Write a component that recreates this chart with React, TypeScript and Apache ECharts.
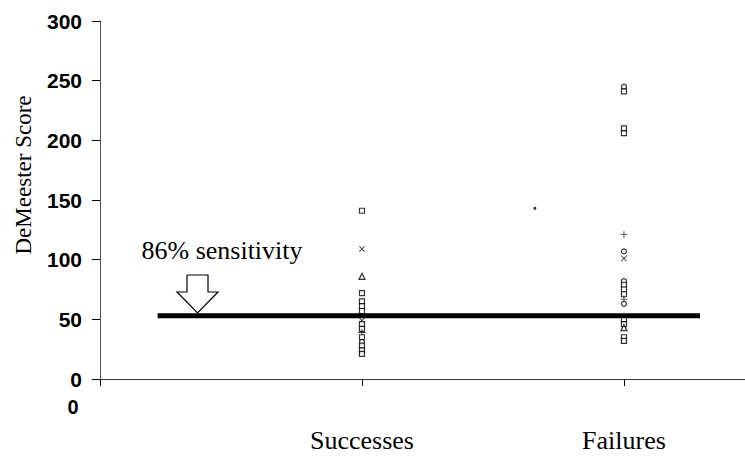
import React, { useEffect, useRef } from "react";
import * as echarts from "echarts";

// DeMeester scores per outcome group; each score has its own marker shape
const categories = ["Successes", "Failures"];
const successScores = [141, 109, 86, 72, 65, 61, 57, 49, 46, 42, 39, 35, 31, 28, 24, 21];
const successMarkers = [
  "square", "cross", "triangle", "square", "square", "square", "square", "cross",
  "square", "square", "plus", "square", "circle", "square", "square", "square",
];
const failureScores = [245, 241, 210, 206, 121, 107, 101, 82, 79, 75, 71, 67, 63, 50, 46, 43, 35, 32];
const failureMarkers = [
  "circle", "square", "square", "square", "plus", "circle", "cross", "circle", "square",
  "square", "square", "plus", "circle", "square", "square", "triangle", "square", "square",
];
const strayPoints = [[1.66, 143]];
const cutoffScore = 53;
const cutoffSpan = [0.22, 2.29];
const yTickValues = [0, 50, 100, 150, 200, 250, 300];
const xTickValues = [0, 1, 2];
const sensitivityLabel = "86% sensitivity";
const yTitle = "DeMeester Score";

const SERIF = "'Liberation Serif', 'Times New Roman', serif";
const SANS = "'Liberation Sans', Arial, sans-serif";

const CROSS_PATH =
  "path://M0,1L1,0L5,4L9,0L10,1L6,5L10,9L9,10L5,6L1,10L0,9L4,5Z";
const PLUS_PATH = "path://M4.4,0H5.6V4.4H10V5.6H5.6V10H4.4V5.6H0V4.4H4.4Z";

function markerItem(x: number, y: number, kind: string) {
  const hollow = { color: "#fff", borderColor: "#000", borderWidth: 1.2 };
  const solid = { color: "#000", borderWidth: 0 };
  switch (kind) {
    case "cross":
      return { value: [x, y], symbol: CROSS_PATH, symbolSize: 6, itemStyle: solid };
    case "plus":
      return { value: [x, y], symbol: PLUS_PATH, symbolSize: 7, itemStyle: solid };
    case "triangle":
      return { value: [x, y], symbol: "triangle", symbolSize: [6, 6], itemStyle: hollow };
    case "circle":
      return { value: [x, y], symbol: "circle", symbolSize: 5, itemStyle: hollow };
    default:
      return { value: [x, y], symbol: "rect", symbolSize: [5, 5], itemStyle: hollow };
  }
}

export default function App() {
  const ref = useRef<HTMLDivElement>(null);

  useEffect(() => {
    if (!ref.current) return;
    const chart = echarts.init(ref.current, null, { renderer: "svg" });

    const successData = successScores.map((v, i) => markerItem(1, v, successMarkers[i]));
    const failureData = failureScores.map((v, i) => markerItem(2, v, failureMarkers[i]));

    const baseY = {
      type: "value" as const,
      min: 0,
      max: 300,
      interval: 50,
      splitLine: { show: false },
    };
    const baseX = {
      type: "value" as const,
      min: 0,
      max: 2.462,
      interval: 1,
      splitLine: { show: false },
    };

    chart.setOption({
      animation: false,
      backgroundColor: "#fff",
      grid: { left: 100, right: 0, top: 21, bottom: 79, containLabel: false },
      xAxis: [
        {
          ...baseX,
          axisLine: { show: true, lineStyle: { color: "#333", width: 1 } },
          axisTick: { show: true, length: 7, customValues: xTickValues, lineStyle: { color: "#000" } },
          axisLabel: {
            customValues: xTickValues,
            margin: 18,
            formatter: (v: number) =>
              v === 0 ? "{zero|0}" : `{cat|${categories[Math.round(v) - 1] ?? ""}}`,
            rich: {
              zero: {
                fontFamily: SANS,
                fontWeight: "bold",
                fontSize: 20,
                color: "#000",
                padding: [0, 54, 0, 0],
              },
              cat: {
                fontFamily: SERIF,
                fontSize: 26,
                color: "#000",
                padding: [30, 0, 0, 0],
              },
            },
          },
        },
        {
          ...baseX,
          axisLine: { show: false },
          axisTick: { show: true, inside: true, length: 6, customValues: xTickValues, lineStyle: { color: "#000" } },
          axisLabel: { show: false },
        },
      ],
      yAxis: [
        {
          ...baseY,
          axisLine: { show: true, lineStyle: { color: "#555", width: 1 } },
          axisTick: { show: true, length: 8, customValues: yTickValues, lineStyle: { color: "#000" } },
          axisLabel: {
            margin: 18,
            fontFamily: SANS,
            fontWeight: "bold",
            fontSize: 21,
            color: "#000",
          },
        },
        {
          ...baseY,
          axisLine: { show: false },
          axisTick: { show: true, inside: true, length: 8, customValues: yTickValues, lineStyle: { color: "#000" } },
          axisLabel: { show: false },
        },
      ],
      series: [
        {
          name: categories[0],
          type: "scatter",
          xAxisIndex: 0,
          yAxisIndex: 0,
          data: successData,
          z: 3,
        },
        {
          name: categories[1],
          type: "scatter",
          xAxisIndex: 0,
          yAxisIndex: 0,
          data: failureData,
          z: 3,
        },
        {
          name: "stray",
          type: "scatter",
          xAxisIndex: 0,
          yAxisIndex: 0,
          symbol: "circle",
          symbolSize: 3,
          itemStyle: { color: "#000" },
          data: strayPoints,
          z: 3,
        },
        {
          name: "cutoff",
          type: "line",
          xAxisIndex: 0,
          yAxisIndex: 0,
          symbol: "none",
          lineStyle: { color: "#000", width: 5 },
          data: cutoffSpan.map((x) => [x, cutoffScore]),
          z: 5,
        },
      ],
      graphic: [
        {
          type: "text",
          x: 23,
          y: 175,
          rotation: Math.PI / 2,
          style: {
            text: yTitle,
            fontFamily: SERIF,
            fontSize: 23,
            fill: "#000",
            align: "center",
            verticalAlign: "middle",
          },
        },
        {
          type: "text",
          x: 222,
          y: 250,
          style: {
            text: sensitivityLabel,
            fontFamily: SERIF,
            fontSize: 26,
            fill: "#000",
            align: "center",
            verticalAlign: "middle",
          },
        },
        {
          type: "polygon",
          shape: {
            points: [
              [187, 275],
              [208, 275],
              [208, 292],
              [218, 292],
              [197.5, 313],
              [177, 292],
              [187, 292],
            ],
          },
          style: { fill: "#fff", stroke: "#000", lineWidth: 1.2 },
        },
      ],
    });

    return () => chart.dispose();
  }, []);

  return (
    <div
      ref={ref}
      style={{ position: "fixed", left: 0, top: 0, width: 745, height: 458, background: "#fff" }}
    />
  );
}
